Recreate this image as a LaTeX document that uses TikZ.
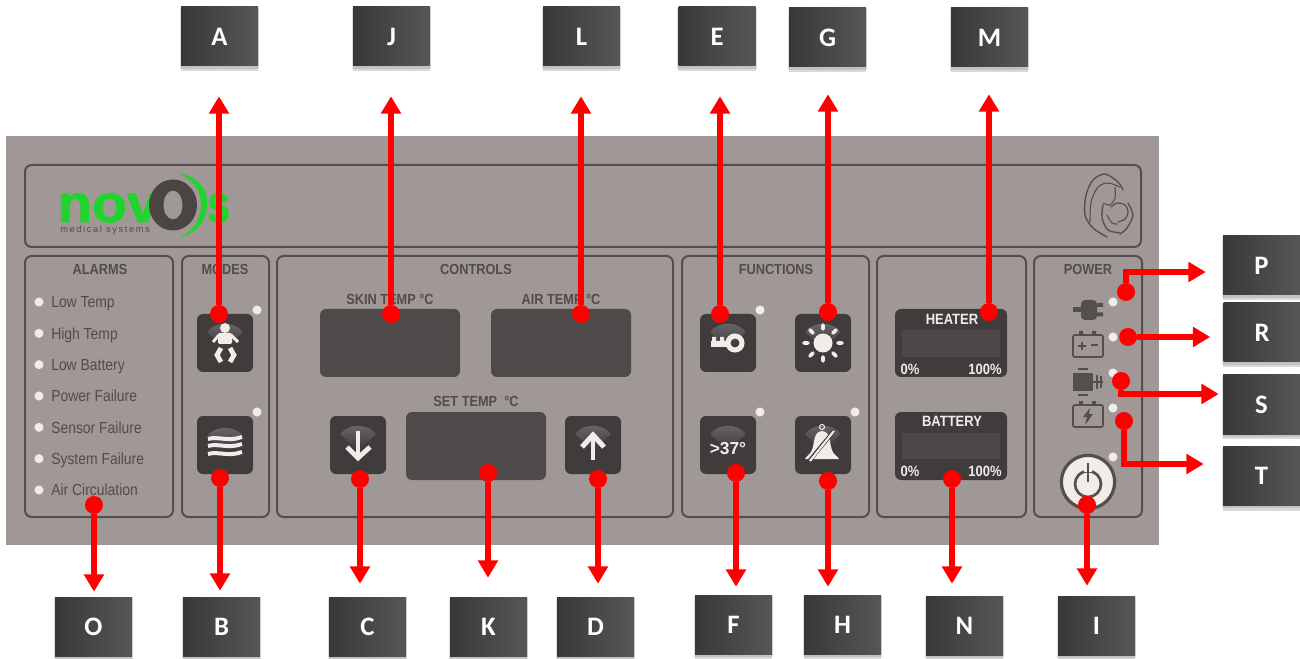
\documentclass[tikz,border=0pt]{standalone}
\usepackage{fontspec}
\usepackage{xcolor}
\setmainfont{Liberation Sans}
\newfontfamily\boxfont{Carlito}
\usetikzlibrary{shapes,arrows.meta,positioning,shadows}
\definecolor{panelgray}{HTML}{A09896}
\definecolor{framegray}{HTML}{544E4D}
\definecolor{textgray}{HTML}{524C4B}
\definecolor{logodark}{HTML}{4A4443}
\definecolor{btndark}{HTML}{403C3C}
\definecolor{dispdark}{HTML}{4E4A4A}
\definecolor{bardark}{HTML}{4C4848}
\definecolor{fangray}{HTML}{6A696A}
\definecolor{ledwhite}{HTML}{F1ECEA}
\definecolor{logogreen}{HTML}{22D32E}
\definecolor{arrowred}{HTML}{FF0000}
\newcommand{\cond}[1]{\scalebox{.87}[1]{#1}}

\begin{document}
\begin{tikzpicture}[x=0.75pt, y=-0.75pt,
    frame/.style={draw=framegray, line width=1.5pt, rounded corners=5pt},
    title/.style={text=textgray, font=\bfseries\fontsize{11}{11}\selectfont, inner sep=0pt, text height=7.9pt, text depth=0pt},
    alarmtext/.style={text=textgray, font=\fontsize{12}{12}\selectfont, inner sep=0pt, text height=8.6pt, text depth=0pt},
    wtext/.style={text=ledwhite, font=\bfseries\fontsize{11.2}{11}\selectfont, inner sep=0pt, text height=8pt, text depth=0pt},
    led/.style={circle, fill=ledwhite, minimum size=6.8pt, inner sep=0pt},
    btn/.style={rectangle, fill=btndark, rounded corners=4.5pt, minimum width=42pt, minimum height=43.5pt, inner sep=0pt},
    display/.style={rectangle, fill=dispdark, rounded corners=4.5pt, minimum width=105pt, minimum height=51pt, inner sep=0pt},
    meter/.style={rectangle, fill=btndark, rounded corners=4.5pt, minimum width=84pt, minimum height=51pt, inner sep=0pt},
    meterbar/.style={rectangle, fill=bardark, minimum width=73.5pt, minimum height=20pt, inner sep=0pt},
    icon/.style={draw=ledwhite, line width=3pt},
    darkicon/.style={draw=framegray, line width=1.3pt},
    reddot/.style={circle, fill=arrowred, minimum size=13.5pt, inner sep=0pt},
    labelbox/.style={rectangle, left color=black!78, right color=black!66, minimum width=57.75pt, minimum height=44.25pt, inner sep=0pt,
        text=white, font=\boxfont\bfseries\fontsize{20}{20}\selectfont,
        drop shadow={shadow xshift=0pt, shadow yshift=-1.5pt, shadow scale=1.03, opacity=.25},
        drop shadow={shadow xshift=0pt, shadow yshift=-3.5pt, shadow scale=1.01, opacity=.3}},
    redarrow/.style={draw=arrowred, line width=4.1pt, -{Triangle[length=13pt, width=14.5pt]}},
    btnfan/.pic={\shade[top color=fangray, bottom color=btndark] (-18,-11) .. controls (-9,-22) and (9,-22) .. (18,-11) -- (3,3) -- (-3,3) -- cycle;}]
    \useasboundingbox (0,0) rectangle (1300,659);

    % Panel
    \fill[panelgray] (6,136) rectangle (1159,545);
    \draw[frame] (25,165) rectangle (1141,247);
    \draw[frame] (25,256) rectangle (173,517);
    \draw[frame] (182,256) rectangle (269,517);
    \draw[frame] (277,256) rectangle (673,517);
    \draw[frame] (682,256) rectangle (869,517);
    \draw[frame] (877,256) rectangle (1026,517);
    \draw[frame] (1034,256) rectangle (1142,517);

    % Logo
    \node[anchor=base west, inner sep=0pt, text=logogreen, font=\bfseries\addfontfeatures{FakeBold=1.5}\fontsize{40}{40}\selectfont] (lognov) at (57,222) {\scalebox{1.07}[1]{nov}};
    \node[anchor=base west, inner sep=0pt, text=logogreen, font=\bfseries\addfontfeatures{FakeBold=1.5}\fontsize{40}{40}\selectfont] (logs) at (207,222) {\scalebox{.77}[1]{s}};
    \fill[logodark, even odd rule] (173,205) ellipse [x radius=24, y radius=25.5] (173,205) ellipse [x radius=9.5, y radius=14.5];
    \fill[logogreen] (178,173) .. controls (200,177) and (209,192) .. (207,205) .. controls (207,220) and (198,232) .. (180,238) .. controls (193,230) and (201,220) .. (201,205) .. controls (201,190) and (193,180) .. (178,173) -- cycle;
    \node[anchor=west, inner sep=0pt, text=textgray, text height=5pt, text depth=0pt, font=\addfontfeatures{LetterSpace=17}\fontsize{7}{7}\selectfont] (logmed) at (60,229) {medical systems};

    % Madre
    \draw[framegray, line width=1pt, line cap=round] plot[smooth] coordinates {(1107,237) (1093,228) (1085,215) (1086,195) (1093,180) (1105,174) (1118,182) (1123,190)};
    \draw[framegray, line width=.8pt, line cap=round] plot[smooth] coordinates {(1090,222) (1091,202) (1098,187) (1108,183) (1120,187)};
    \draw[framegray, line width=.8pt, line cap=round] plot[smooth] coordinates {(1115,187) (1115,198) (1110,205) (1103,203)};
    \draw[framegray, line width=1pt, line cap=round] plot[smooth] coordinates {(1103,205) (1102,218) (1108,230) (1120,233)};
    \draw[framegray, line width=1pt, line cap=round] plot[smooth] coordinates {(1128,203) (1133,215) (1127,228) (1120,234)};
    \draw[framegray, line width=.8pt, line cap=round] plot[smooth] coordinates {(1107,215) (1112,223) (1117,224)};
    \draw[framegray, line width=.9pt, line cap=round] plot[smooth] coordinates {(1111,207) (1117,203) (1125,205) (1128,212) (1125,219) (1118,222)};

    % Titulos
    \node[title] (talarms) at (100,269) {\cond{ALARMS}};
    \node[title] (tmodes) at (225,269) {\cond{MODES}};
    \node[title] (tcontrols) at (476,269) {\cond{CONTROLS}};
    \node[title] (tfunctions) at (776,269) {\cond{FUNCTIONS}};
    \node[title] (tpower) at (1088,269) {\cond{POWER}};
    \node[title] (tskin) at (390,299) {\cond{SKIN TEMP °C}};
    \node[title] (tair) at (561,299) {\cond{AIR TEMP °C}};
    \node[title] (tset) at (476,401) {\cond{SET TEMP\ \ °C}};

    % Alarmas
    \node[led] (ledlow) at (39,302) {};
    \node[led, below of=ledlow, node distance=23.5pt] (ledhigh) {};
    \node[led, below of=ledhigh, node distance=23.5pt] (ledbat) {};
    \node[led, below of=ledbat, node distance=23.5pt] (ledpow) {};
    \node[led, below of=ledpow, node distance=23.5pt] (ledsen) {};
    \node[led, below of=ledsen, node distance=23.5pt] (ledsys) {};
    \node[led, below of=ledsys, node distance=23.5pt] (ledair) {};
    \node[alarmtext, right=5.4pt of ledlow] (tlow) {\cond{Low Temp}};
    \node[alarmtext, right=5.4pt of ledhigh] (thigh) {\cond{High Temp}};
    \node[alarmtext, right=5.4pt of ledbat] (tbat) {\cond{Low Battery}};
    \node[alarmtext, right=5.4pt of ledpow] (tpow) {\cond{Power Failure}};
    \node[alarmtext, right=5.4pt of ledsen] (tsen) {\cond{Sensor Failure}};
    \node[alarmtext, right=5.4pt of ledsys] (tsys) {\cond{System Failure}};
    \node[alarmtext, right=5.4pt of ledair] (tcirc) {\cond{Air Circulation}};

    % Botones
    \node[btn] (btnbaby) at (225,343) {};
    \node[btn] (btnwave) at (225,445) {};
    \node[btn] (btndown) at (358,445) {};
    \node[btn] (btnup) at (593,445) {};
    \node[btn] (btnkey) at (728,343) {};
    \node[btn] (btnsun) at (823,343) {};
    \node[btn] (btnhot) at (728,445) {};
    \node[btn] (btnbell) at (823,445) {};
    \pic at (225,343) {btnfan};
    \pic at (225,447) {btnfan};
    \pic at (358,445) {btnfan};
    \pic at (593,445) {btnfan};
    \pic at (728,343) {btnfan};
    \pic at (823,343) {btnfan};
    \pic at (728,445) {btnfan};
    \pic at (823,445) {btnfan};

    % Iconos
    \fill[ledwhite] (225,328) circle (5);
    \fill[ledwhite, rounded corners=1pt] (218,333) rectangle (232,344);
    \draw[icon, line width=2.2pt] (219,335) -- (213,342) (231,335) -- (238,342);
    \draw[icon, line width=3.6pt] (221,348) -- (217,355) -- (221,362) (230,348) -- (234,355) -- (230,362);
    \draw[icon] (208,439) .. controls (218,436) and (228,442) .. (242,437);
    \draw[icon] (208,446) .. controls (218,443) and (228,449) .. (242,444);
    \draw[icon] (208,454) .. controls (218,451) and (228,457) .. (242,452);
    \draw[icon, line width=2.6pt] (358,431) -- (358,455);
    \draw[icon, line width=3.6pt] (347,447) -- (358,458) -- (370,447);
    \draw[icon, line width=3.2pt] (593,460) -- (593,436);
    \draw[icon, line width=3.8pt] (582,447) -- (593,435) -- (604,447);
    \fill[ledwhite] (711,341) rectangle (728,347) (712,337) rectangle (716,341) (720,337) rectangle (724,341);
    \draw[ledwhite, line width=3.8pt] (735,343) circle (7);
    \fill[ledwhite] (823,343) circle (9.5);
    \draw[icon, line width=2.7pt, line cap=round] (838,343) -- (842,343) (833,333) -- (836,330) (823,329) -- (823,325) (813,333) -- (810,330) (808,343) -- (804,343) (813,353) -- (810,356) (823,357) -- (823,361) (833,353) -- (836,356);
    \node[wtext, text height=9pt, font=\bfseries\fontsize{13}{13}\selectfont] (thot) at (728,448) {>37°};
    \fill[ledwhite] (822,431) .. controls (813,432) and (815,442) .. (812,450) .. controls (810,455) and (806,456) .. (805,459) -- (839,459) .. controls (838,456) and (833,455) .. (832,450) .. controls (829,442) and (831,432) .. (822,431) -- cycle;
    \draw[ledwhite, line width=.8pt] (822,427) circle (2.5);
    \draw[btndark, line width=3pt] (810,460) -- (834,431);
    \draw[ledwhite, line width=1.6pt] (810,461) -- (834,431);

    % Pantallas
    \node[display] (skin) at (390,343) {};
    \node[display] (air) at (561,343) {};
    \node[display] (setp) at (476,446) {};
    \node[meter] (heater) at (951,343) {};
    \node[meterbar] (heaterbar) at (951,343.5) {};
    \node[wtext] (theater) at (952,319) {\cond{HEATER}};
    \node[wtext] (thzero) at (910,369) {\cond{0\%}};
    \node[wtext] (thfull) at (985,369) {\cond{100\%}};
    \node[meter] (battery) at (951,446) {};
    \node[meterbar] (batterybar) at (951,446) {};
    \node[wtext] (tbattery) at (952,421) {\cond{BATTERY}};
    \node[wtext] (tbzero) at (910,471) {\cond{0\%}};
    \node[wtext] (tbfull) at (985,471) {\cond{100\%}};

    % Potencia
    \fill[framegray] (1073,307.5) rectangle (1084,312.5);
    \fill[framegray, rounded corners=3pt] (1081,300) rectangle (1097,320);
    \fill[framegray] (1097,303) rectangle (1103,307) (1097,312.5) rectangle (1103,316.5);
    \draw[darkicon, rounded corners=1.5pt] (1073,335) rectangle (1103,357);
    \fill[framegray] (1079,331) rectangle (1083,335) (1092,331) rectangle (1096,335);
    \draw[darkicon, line width=1.7pt] (1078,346) -- (1086,346) (1082,342) -- (1082,350) (1091,345) -- (1098,345);
    \fill[framegray] (1073,373) rectangle (1093,391);
    \draw[darkicon] (1078,369) -- (1088,369) (1078,395) -- (1088,395);
    \draw[darkicon, line width=1.5pt] (1093,382) -- (1103,382) (1097,375) -- (1097,389) (1100.5,376) -- (1100.5,388);
    \draw[darkicon, rounded corners=1.5pt] (1073,405) rectangle (1103,427);
    \fill[framegray] (1079,401) rectangle (1083,405) (1092,401) rectangle (1096,405);
    \fill[framegray] (1090,408) -- (1083,417) -- (1087,417) -- (1085,425) -- (1093,414) -- (1089,414) -- cycle;
    \node[circle, draw=framegray, line width=2.4pt, fill=ledwhite, minimum size=40pt, inner sep=0pt] (powerbtn) at (1088,482) {};
    \draw[framegray, line width=2pt] (1088,484) circle (13);
    \draw[ledwhite, line width=6pt] (1088,472) -- (1088,466);
    \draw[framegray, line width=2.2pt] (1088,463) -- (1088,482);

    % Luces
    \node[led] (ledmode) at (257,310) {};
    \node[led] (ledwave) at (257,412) {};
    \node[led] (ledkey) at (760,310) {};
    \node[led] (ledhot) at (760,412) {};
    \node[led] (ledbell) at (855,412) {};
    \node[led] (ledplug) at (1113,302) {};
    \node[led] (ledcell) at (1113,337) {};
    \node[led] (ledmotor) at (1113,373) {};
    \node[led] (ledcharge) at (1113,408) {};
    \node[led] (ledpower) at (1113,457) {};

    % Etiquetas
    \node[labelbox] (boxA) at (219.5,36.5) {A};
    \node[labelbox] (boxJ) at (391.5,36.5) {J};
    \node[labelbox] (boxL) at (581.5,36.5) {L};
    \node[labelbox] (boxE) at (717,36.5) {E};
    \node[labelbox] (boxG) at (827.5,37.5) {G};
    \node[labelbox] (boxM) at (989.5,37.5) {M};
    \node[labelbox] (boxO) at (93.5,626.5) {O};
    \node[labelbox] (boxB) at (221.5,626.5) {B};
    \node[labelbox] (boxC) at (367.5,626.5) {C};
    \node[labelbox] (boxK) at (488.5,626.5) {K};
    \node[labelbox] (boxD) at (595.5,626.5) {D};
    \node[labelbox] (boxF) at (733.5,624.5) {F};
    \node[labelbox] (boxH) at (842.5,624.5) {H};
    \node[labelbox] (boxN) at (964.5,625.5) {N};
    \node[labelbox] (boxI) at (1096.5,625.5) {I};
    \node[labelbox] (boxP) at (1261.5,265.5) {P};
    \node[labelbox] (boxR) at (1262,332.5) {R};
    \node[labelbox] (boxS) at (1261.5,404.5) {S};
    \node[labelbox] (boxT) at (1261.5,476) {T};

    % Puntos
    \node[reddot] (dotA) at (219,314) {};
    \node[reddot] (dotJ) at (391,314) {};
    \node[reddot] (dotL) at (581,314) {};
    \node[reddot] (dotE) at (720,314) {};
    \node[reddot] (dotG) at (828,312) {};
    \node[reddot] (dotM) at (989,312) {};
    \node[reddot] (dotO) at (94,505) {};
    \node[reddot] (dotB) at (220,478) {};
    \node[reddot] (dotC) at (360,479) {};
    \node[reddot] (dotK) at (488,473) {};
    \node[reddot] (dotD) at (598,479) {};
    \node[reddot] (dotF) at (736,473) {};
    \node[reddot] (dotH) at (828,481) {};
    \node[reddot] (dotN) at (952,479) {};
    \node[reddot] (dotI) at (1087,505) {};
    \node[reddot] (dotP) at (1126,292) {};
    \node[reddot] (dotR) at (1128,337) {};
    \node[reddot] (dotS) at (1121,381) {};
    \node[reddot] (dotT) at (1124,421) {};

    % Flechas
    \draw[redarrow, shorten >=22.5pt] (dotA) -- (dotA |- boxA.south);
    \draw[redarrow, shorten >=22.5pt] (dotJ) -- (dotJ |- boxJ.south);
    \draw[redarrow, shorten >=22.5pt] (dotL) -- (dotL |- boxL.south);
    \draw[redarrow, shorten >=22.5pt] (dotE) -- (dotE |- boxE.south);
    \draw[redarrow, shorten >=20.25pt] (dotG) -- (dotG |- boxG.south);
    \draw[redarrow, shorten >=20.25pt] (dotM) -- (dotM |- boxM.south);
    \draw[redarrow, shorten >=3.75pt] (dotO) -- (dotO |- boxO.north);
    \draw[redarrow, shorten >=4.5pt] (dotB) -- (dotB |- boxB.north);
    \draw[redarrow, shorten >=9.75pt] (dotC) -- (dotC |- boxC.north);
    \draw[redarrow, shorten >=14.25pt] (dotK) -- (dotK |- boxK.north);
    \draw[redarrow, shorten >=9.75pt] (dotD) -- (dotD |- boxD.north);
    \draw[redarrow, shorten >=6pt] (dotF) -- (dotF |- boxF.north);
    \draw[redarrow, shorten >=6pt] (dotH) -- (dotH |- boxH.north);
    \draw[redarrow, shorten >=9pt] (dotN) -- (dotN |- boxN.north);
    \draw[redarrow, shorten >=7.5pt] (dotI) -- (dotI |- boxI.north);
    \draw[redarrow, shorten >=12.75pt] (dotP) |- ([yshift=-4.9pt]boxP.west);
    \draw[redarrow, shorten >=9.75pt] (dotR) -- (dotR -| boxR.west);
    \draw[redarrow, shorten >=3pt] (dotS) |- ([yshift=7.9pt]boxS.west);
    \draw[redarrow, shorten >=14.25pt] (dotT) |- ([yshift=9pt]boxT.west);
\end{tikzpicture}
\end{document}
